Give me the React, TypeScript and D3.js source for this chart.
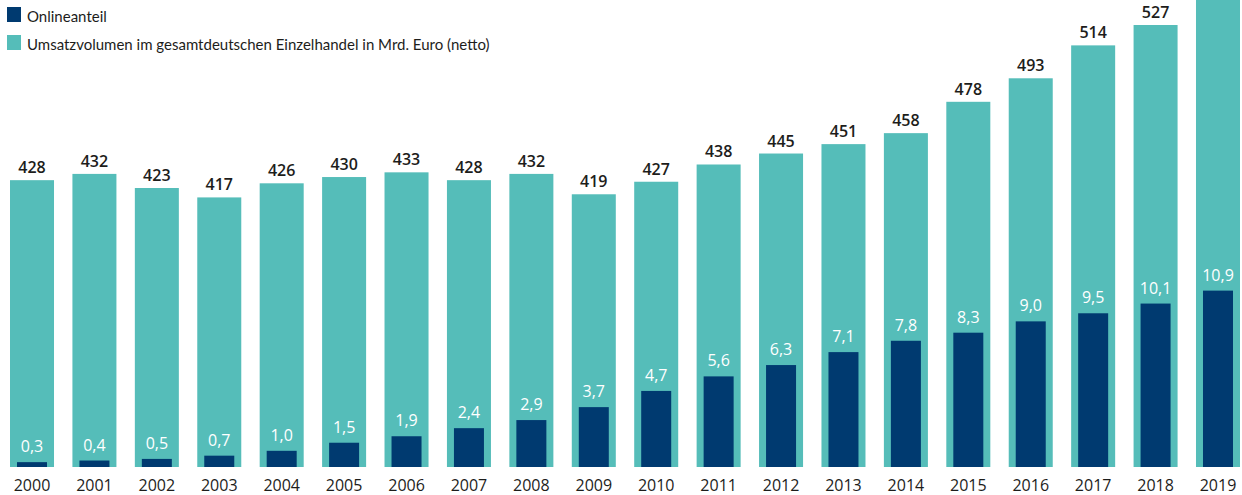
import React, { useRef, useEffect } from "react";
import * as d3 from "d3";

const years = ["2000", "2001", "2002", "2003", "2004", "2005", "2006", "2007", "2008", "2009",
  "2010", "2011", "2012", "2013", "2014", "2015", "2016", "2017", "2018", "2019"];
const umsatz = [428, 432, 423, 417, 426, 430, 433, 428, 432, 419, 427, 438, 445, 451, 458, 478, 493, 514, 527, 544];
const online = [0.3, 0.4, 0.5, 0.7, 1.0, 1.5, 1.9, 2.4, 2.9, 3.7, 4.7, 5.6, 6.3, 7.1, 7.8, 8.3, 9.0, 9.5, 10.1, 10.9];
const legendLabels = ["Onlineanteil", "Umsatzvolumen im gesamtdeutschen Einzelhandel in Mrd. Euro (netto)"];

const TEAL = "#55bdb9";
const NAVY = "#003a70";
const TEXT = "#1d1d1b";

function RetailChart() {
  const svgRef = useRef();
  const width = 1242;
  const height = 495;
  const baseline = 467;

  useEffect(() => {
    const svg = d3.select(svgRef.current);
    svg.selectAll("*").remove();

    const x = d3.scaleBand().domain(years).range([10, 1240]).paddingInner(0.295).paddingOuter(0);

    // total volume – axis does not start at zero
    const y = d3.scaleLinear().domain([245, 527]).range([baseline, 25]);
    // online share
    const yOn = d3.scaleLinear().domain([0, 11]).range([baseline, baseline - 178]);

    const data = years.map((yr, i) => ({ yr, total: umsatz[i], on: online[i] }));
    const fmt = (v) => d3.format(".1f")(v).replace(".", ",");

    const bars = svg.append("g");
    bars
      .selectAll("rect.total")
      .data(data)
      .join("rect")
      .attr("class", "total")
      .attr("x", (d) => x(d.yr))
      .attr("y", (d) => y(d.total))
      .attr("width", x.bandwidth())
      .attr("height", (d) => baseline - y(d.total))
      .attr("fill", TEAL);

    const onW = 30;
    bars
      .selectAll("rect.online")
      .data(data)
      .join("rect")
      .attr("class", "online")
      .attr("x", (d) => x(d.yr) + (x.bandwidth() - onW) / 2)
      .attr("y", (d) => yOn(d.on))
      .attr("width", onW)
      .attr("height", (d) => baseline - yOn(d.on))
      .attr("fill", NAVY);

    const labels = svg.append("g").attr("font-family", "'Open Sans', sans-serif").attr("font-size", 16);
    // the last bar runs past the top edge, so its label is not shown (as in the original)
    labels
      .selectAll("text.total")
      .data(data.filter((d) => y(d.total) - 20 > 0))
      .join("text")
      .attr("x", (d) => x(d.yr) + x.bandwidth() / 2)
      .attr("y", (d) => y(d.total) - 7)
      .attr("text-anchor", "middle")
      .attr("font-weight", 600)
      .attr("fill", TEXT)
      .text((d) => d.total);

    labels
      .selectAll("text.online")
      .data(data)
      .join("text")
      .attr("x", (d) => x(d.yr) + x.bandwidth() / 2)
      .attr("y", (d) => yOn(d.on) - 10)
      .attr("text-anchor", "middle")
      .attr("fill", "#fff")
      .text((d) => fmt(d.on));

    // year axis
    svg
      .append("g")
      .attr("transform", `translate(0,${baseline})`)
      .call(d3.axisBottom(x).tickSize(0).tickPadding(13))
      .call((g) => g.select(".domain").remove())
      .call((g) =>
        g.selectAll("text")
          .attr("font-family", "'Open Sans', sans-serif")
          .attr("font-size", 16)
          .attr("fill", TEXT)
      );

    // legend
    const legend = svg.append("g").attr("font-family", "Lato, sans-serif").attr("font-size", 15);
    [NAVY, TEAL].forEach((c, i) => {
      const g = legend.append("g").attr("transform", `translate(7,${7 + i * 28})`);
      g.append("rect").attr("width", 14).attr("height", 15).attr("fill", c);
      g.append("text").attr("x", 20).attr("y", 15).attr("fill", TEXT).text(legendLabels[i]);
    });
  }, []);

  return <svg ref={svgRef} width={width} height={height} style={{ display: "block" }}></svg>;
}

export default function App() {
  return (
    <div style={{ position: "absolute", left: 0, top: 0, background: "#fff" }}>
      <RetailChart />
    </div>
  );
}
